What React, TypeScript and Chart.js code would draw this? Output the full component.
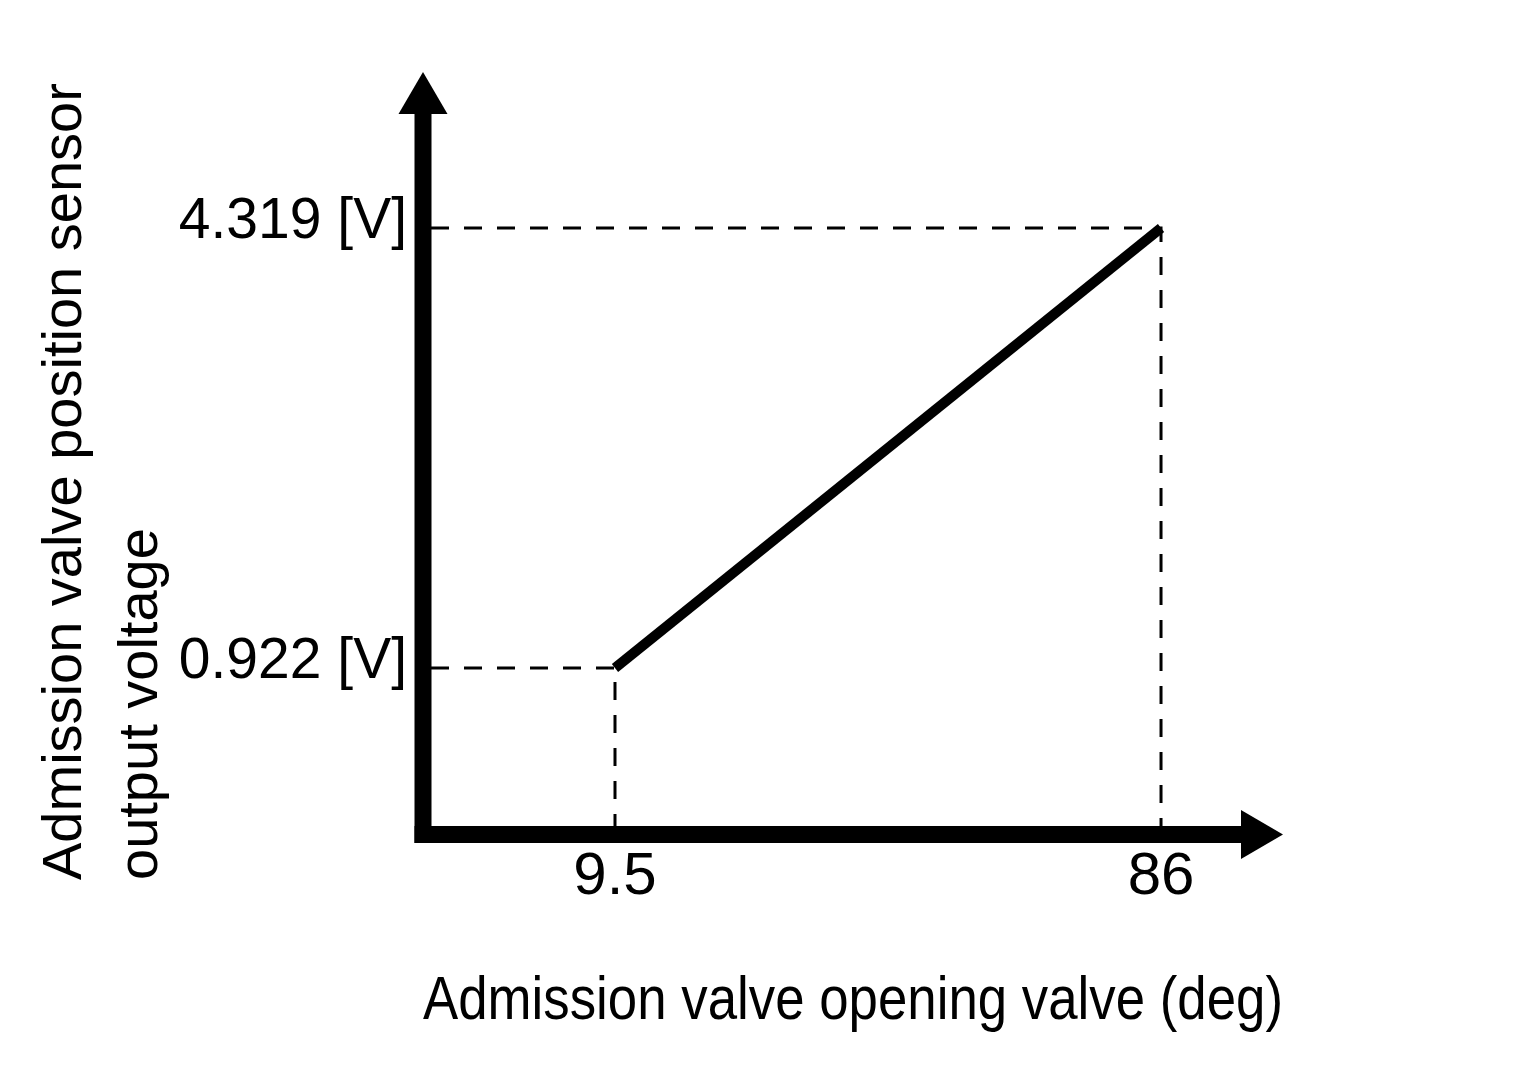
import React, { useEffect, useRef } from "react";
import { Chart, registerables } from "chart.js";

Chart.register(...registerables);

// ---- data ----
const X_VALUES = [9.5, 86];
const Y_VALUES = [0.922, 4.319];
const X_TICKS = [9.5, 86];
const X_TICK_LABELS = ["9.5", "86"];
const Y_TICKS = [0.922, 4.319];
const Y_TICK_LABELS = ["0.922 [V]", "4.319 [V]"];
const X_AXIS_RANGE = [-17.4, 103.09];
const Y_AXIS_RANGE = [-0.7147, 5.5234];
const ORIGIN = [-17.4, -0.3634]; // where the drawn arrow axes cross
const X_TITLE = "Admission valve opening valve (deg)";
const Y_TITLE = ["Admission valve position sensor", "output voltage"];

const FONT = "'Liberation Sans', Arial, Helvetica, sans-serif";

const arrowAxes = {
  id: "arrowAxes",
  afterDatasetsDraw(chart: any) {
    const { ctx, chartArea, scales } = chart;
    const ox = scales.x.getPixelForValue(ORIGIN[0]);
    const oy = scales.y.getPixelForValue(ORIGIN[1]);
    const w = 17;
    const head = 42;
    const half = 24.5;
    const yTip = chartArea.top;
    const xTip = chartArea.right;
    ctx.save();
    ctx.fillStyle = "#000";
    // vertical axis shaft
    ctx.fillRect(ox - w / 2, yTip + head - 1, w, oy + w / 2 - (yTip + head - 1));
    // horizontal axis shaft
    ctx.fillRect(ox - w / 2, oy - w / 2, xTip - head + 1 - (ox - w / 2), w);
    // arrow heads
    ctx.beginPath();
    ctx.moveTo(ox, yTip);
    ctx.lineTo(ox + half, yTip + head);
    ctx.lineTo(ox - half, yTip + head);
    ctx.closePath();
    ctx.fill();
    ctx.beginPath();
    ctx.moveTo(xTip, oy);
    ctx.lineTo(xTip - head, oy - half);
    ctx.lineTo(xTip - head, oy + half);
    ctx.closePath();
    ctx.fill();
    ctx.restore();
  },
};

export default function App() {
  const ref = useRef<HTMLCanvasElement | null>(null);

  useEffect(() => {
    if (!ref.current) return;
    const mainLine = X_VALUES.map((x, i) => ({ x, y: Y_VALUES[i] }));
    const guides = X_VALUES.map((x, i) => ({
      data: [
        { x: ORIGIN[0], y: Y_VALUES[i] },
        { x, y: Y_VALUES[i] },
        { x, y: ORIGIN[1] },
      ],
      showLine: true,
      borderColor: "#000",
      borderWidth: 3,
      borderDash: [18, 15],
      borderDashOffset: 25,
      pointRadius: 0,
      order: 2,
    }));

    const chart = new Chart(ref.current, {
      type: "scatter",
      data: {
        datasets: [
          {
            data: mainLine,
            showLine: true,
            borderColor: "#000",
            borderWidth: 10,
            pointRadius: 0,
            order: 1,
          },
          ...guides,
        ] as any,
      },
      options: {
        responsive: false,
        animation: false,
        devicePixelRatio: 1,
        events: [],
        layout: { padding: { left: 28, top: 72, right: 253, bottom: 0 } },
        plugins: { legend: { display: false }, tooltip: { enabled: false } },
        scales: {
          x: {
            type: "linear",
            position: "bottom",
            min: X_AXIS_RANGE[0],
            max: X_AXIS_RANGE[1],
            grid: { display: false },
            border: { display: false },
            afterBuildTicks: (s: any) => {
              s.ticks = X_TICKS.map((v) => ({ value: v }));
            },
            afterFit: (s: any) => {
              s.height = 207;
            },
            ticks: {
              callback: (_v: any, i: number) => X_TICK_LABELS[i],
              font: { family: FONT, size: 60, lineHeight: 1.2 },
              color: "#000",
              mirror: true,
              padding: -33.5,
              maxRotation: 0,
              autoSkip: false,
            },
            title: {
              display: true,
              text: X_TITLE,
              align: "center",
              font: { family: FONT, size: 61, lineHeight: 1.2 },
              color: "#000",
              padding: { top: 0, bottom: 48.5 },
            },
          },
          y: {
            type: "linear",
            position: "left",
            min: Y_AXIS_RANGE[0],
            max: Y_AXIS_RANGE[1],
            grid: { display: false },
            border: { display: false },
            afterBuildTicks: (s: any) => {
              s.ticks = Y_TICKS.map((v) => ({ value: v }));
            },
            afterFit: (s: any) => {
              s.width = 395;
            },
            ticks: {
              callback: (_v: any, i: number) => [Y_TICK_LABELS[i], ""],
              font: { family: FONT, size: 57, lineHeight: "12px" },
              color: "#000",
              padding: 8,
              autoSkip: false,
            },
            title: {
              display: true,
              text: Y_TITLE,
              align: "start",
              font: { family: FONT, size: 56, lineHeight: "76px" },
              color: "#000",
              padding: { top: 0, bottom: 0 },
            },
          },
        },
      } as any,
      plugins: [arrowAxes],
    });
    return () => chart.destroy();
  }, []);

  return (
    <div style={{ position: "absolute", left: 0, top: 0, width: 1536, height: 1087, background: "#fff" }}>
      <canvas ref={ref} width={1536} height={1087} style={{ display: "block" }} />
    </div>
  );
}
